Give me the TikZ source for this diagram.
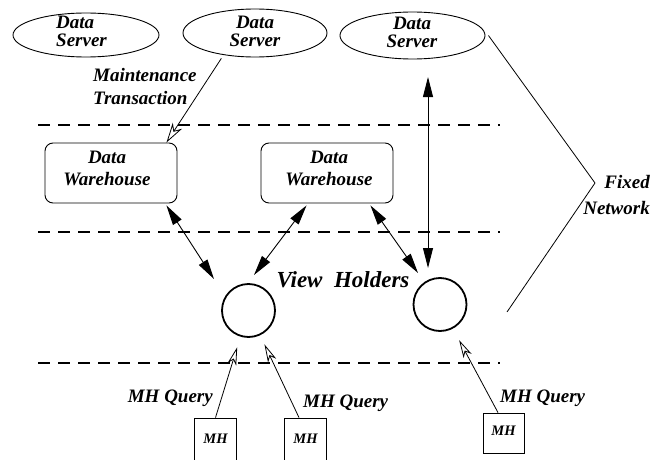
\documentclass[tikz,border=0pt]{standalone}
\usepackage{fontspec}
\setmainfont{Liberation Serif}
\usetikzlibrary{arrows.meta,shapes.geometric}
\begin{document}
\begin{tikzpicture}[x=1pt,y=-1pt,
  lab/.style={font=\fontsize{19}{18}\selectfont\bfseries\itshape, inner sep=0pt, align=center},
  server/.style={ellipse, draw, line width=0.9pt, minimum width=146pt, minimum height=44pt, inner sep=0pt},
  warehouse/.style={rectangle, draw, rounded corners=8pt, line width=0.9pt, minimum width=132pt, minimum height=60pt, inner sep=0pt},
  holder/.style={circle, draw, line width=1.8pt, minimum size=53pt, inner sep=0pt},
  mhbox/.style={rectangle, draw, line width=0.8pt, minimum width=42pt, inner sep=0pt,
    font=\fontsize{14.5}{16}\selectfont\bfseries\itshape, anchor=base},
  zoneline/.style={line width=2.4pt, dash pattern=on 12pt off 8pt},
  dbl/.style={line width=0.9pt, {Triangle[length=20pt,width=10pt]}-{Triangle[length=20pt,width=10pt]}},
  maint/.style={line width=0.8pt, -{Stealth[open,length=20pt,width=11pt,inset=6pt]}},
  mhq/.style={line width=0.8pt, -{Stealth[open,length=18pt,width=9pt,inset=5pt]}},
  bracket/.style={line width=0.8pt}]
\useasboundingbox (0,0) rectangle (664,460);

% zone separators
\draw[zoneline] (38,125) -- (500,125);
\draw[zoneline] (38,232) -- (500,232);
\draw[zoneline] (38,363) -- (500,363);

% data servers
\node[server] (ds1) at (86,35) {};
\node[lab, align=left, anchor=west] (ds1t) at (56,31.5) {Data\\Server};
\node[server, minimum width=144pt, minimum height=48pt] (ds2) at (255,33) {};
\node[lab] (ds2t) at (255,31.5) {Data\\Server};
\node[server, minimum width=145pt, minimum height=47pt] (ds3) at (412.5,35.5) {};
\node[lab] (ds3t) at (412,32) {Data\\Server};

% data warehouses
\node[warehouse] (dw1) at (111,173) {};
\node[lab, font=\fontsize{19}{22}\selectfont\bfseries\itshape] (dw1t) at (107,168) {Data\\Warehouse};
\node[warehouse] (dw2) at (327,173) {};
\node[lab, font=\fontsize{19}{22}\selectfont\bfseries\itshape] (dw2t) at (329,168) {Data\\Warehouse};

% view holders
\node[holder] (vh1) at (248.5,310.5) {};
\node[holder] (vh2) at (440,304.5) {};
\node[lab, font=\fontsize{23}{26}\selectfont\bfseries\itshape, anchor=base] (vht) at (343,287) {View\ \ Holders};

% mobile hosts
\node[mhbox, text height=25pt, text depth=25pt] (mh1) at (215.5,443) {MH};
\node[mhbox, text height=25pt, text depth=25pt] (mh2) at (305.5,443) {MH};
\node[mhbox, minimum width=41pt, text height=22pt, text depth=18pt] (mh3) at (503.5,435) {MH};

% labels
\node[lab, font=\fontsize{19}{23}\selectfont\bfseries\itshape, align=left, anchor=west] (mtl) at (93,87) {Maintenance\\Transaction};
\node[lab, font=\fontsize{19}{25}\selectfont\bfseries\itshape, align=right, anchor=east] (fnl) at (650,195) {Fixed\\Network};
\node[lab, anchor=base east] (q1) at (213,402) {MH Query};
\node[lab, anchor=base west] (q2) at (303,407) {MH Query};
\node[lab, anchor=base west] (q3) at (500,402) {MH Query};

% maintenance transaction
\draw[maint, shorten <=4pt] (ds2.215) -- ([xshift=-11pt]dw1.north east);

% warehouse / view holder exchanges
\draw[dbl] ([xshift=-11pt,yshift=-2pt]dw1.south east) -- ([shift={(-34.5pt,31.5pt)}]vh1.center);
\draw[dbl] ([xshift=46pt,yshift=-2pt]dw2.south west) -- ([shift={(5.5pt,35.5pt)}]vh1.center);
\draw[dbl] ([xshift=-23pt,yshift=-2pt]dw2.south east) -- ([shift={(-22pt,31.5pt)}]vh2.center);
\draw[dbl] ([shift={(15.5pt,-41.5pt)}]ds3.center) -- ([shift={(-12pt,36.5pt)}]vh2.center);

% mobile host queries
\draw[mhq, shorten >=11pt] (mh1.north) -- (vh1);
\draw[mhq, shorten >=10pt] ([xshift=-6.5pt]mh2.north) -- (vh1);
\draw[mhq, shorten >=13pt] ([xshift=-5.5pt]mh3.north) -- (vh2);

% fixed network bracket
\coordinate (fnv) at (595,183);
\coordinate (fne) at (507,312);
\draw[bracket] ([xshift=3pt]ds3.east) -- (fnv) -- (fne);
\end{tikzpicture}
\end{document}
